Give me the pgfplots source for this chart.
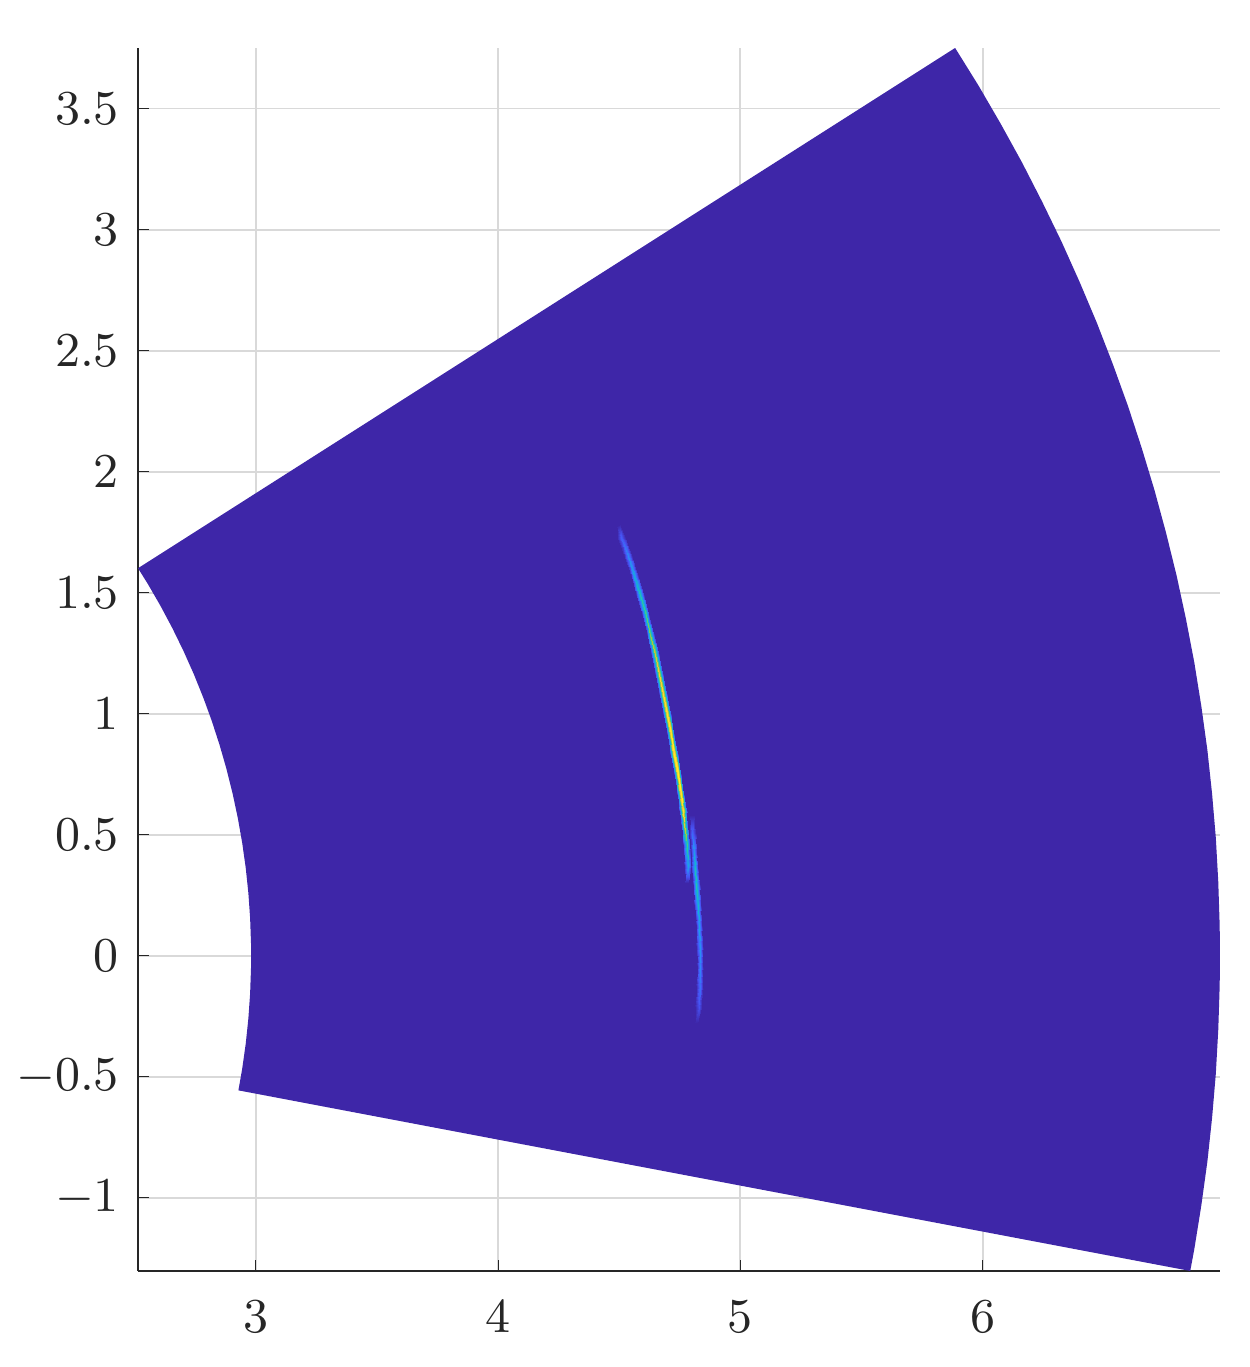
\documentclass[border=0pt]{standalone}
\usepackage{pgfplots}
\usepackage{pgfplotstable}
\pgfplotsset{compat=1.18}
\definecolor{parulaA}{rgb}{0.2422,0.1504,0.6603}
\pgfplotsset{colormap={parula}{
 rgb=(0.2422,0.1504,0.6603)
 rgb=(0.2810,0.3228,0.9579)
 rgb=(0.1786,0.5289,0.9682)
 rgb=(0.0689,0.6948,0.8394)
 rgb=(0.2161,0.7843,0.5923)
 rgb=(0.6720,0.7793,0.2227)
 rgb=(0.9970,0.7659,0.2199)
 rgb=(0.9657,0.8981,0.1797)
 rgb=(0.9769,0.9839,0.0805)}}

\pgfplotstableread{
t r c
21.6 4.812 0
21.6 4.828 0
21.6 4.844 0
21.0 4.812 0
21.0 4.828 0.15
21.0 4.844 0
20.0 4.811 0
20.0 4.827 0.25
20.0 4.843 0
19.0 4.809 0
19.0 4.825 0.35
19.0 4.841 0
18.0 4.806 0
18.0 4.822 0.45
18.0 4.838 0
17.0 4.803 0
17.0 4.819 0.52
17.0 4.835 0
16.0 4.799 0
16.0 4.815 0.60
16.0 4.831 0
15.0 4.795 0
15.0 4.811 0.68
15.0 4.827 0
14.0 4.791 0
14.0 4.807 0.76
14.0 4.823 0
13.0 4.787 0
13.0 4.803 0.84
13.0 4.819 0
12.0 4.785 0
12.0 4.801 0.90
12.0 4.817 0
11.0 4.784 0
11.0 4.800 0.94
11.0 4.816 0
10.0 4.784 0
10.0 4.800 0.97
10.0 4.816 0
9.0 4.784 0
9.0 4.800 1.00
9.0 4.816 0
8.0 4.784 0
8.0 4.800 0.96
8.0 4.816 0
7.2 4.784 0
7.2 4.800 0.88
7.2 4.816 0
6.5 4.784 0
6.5 4.800 0.72
6.5 4.816 0
5.5 4.784 0
5.5 4.800 0.52
5.5 4.816 0
4.5 4.783 0
4.5 4.799 0.35
4.5 4.815 0
3.6 4.782 0
3.6 4.798 0
3.6 4.814 0
}\mainstreak

\pgfplotstableread{
t r c
6.9 4.814 0
6.9 4.828 0
6.9 4.842 0
6.0 4.814 0
6.0 4.828 0.18
6.0 4.842 0
5.0 4.813 0
5.0 4.827 0.32
5.0 4.841 0
4.3 4.812 0
4.3 4.826 0.42
4.3 4.840 0
3.5 4.813 0
3.5 4.827 0.45
3.5 4.841 0
2.5 4.815 0
2.5 4.829 0.40
2.5 4.843 0
1.5 4.817 0
1.5 4.831 0.32
1.5 4.845 0
0.5 4.819 0
0.5 4.833 0.28
0.5 4.847 0
-0.5 4.820 0
-0.5 4.834 0.25
-0.5 4.848 0
-1.5 4.820 0
-1.5 4.834 0.20
-1.5 4.848 0
-2.5 4.819 0
-2.5 4.833 0.12
-2.5 4.847 0
-3.3 4.819 0
-3.3 4.833 0
-3.3 4.847 0
}\secondstreak

\begin{document}
\begin{tikzpicture}
\useasboundingbox (-25.53pt,-17.76pt) rectangle (205.72pt,235.14pt);
\begin{axis}[
  at={(0,0)}, anchor=south west,
  scale only axis,
  width=200.17pt, height=226.26pt,
  xmin=2.513, xmax=6.98, ymin=-1.302, ymax=3.750,
  axis lines=left,
  axis line style={-, draw=black!85},
  xtick={3,4,5,6},
  ytick={-1,-0.5,0,0.5,1,1.5,2,2.5,3,3.5},
  tick align=inside,
  major tick length=2pt,
  tick style={black!85},
  tick label style={font=\fontsize{9}{11}\selectfont, text=black!85},
  grid=major,
  grid style={black!15, line width=0.35pt},
  xticklabel style={yshift=-2pt},
  colormap name=parula,
  point meta min=0, point meta max=1,
]
\addplot[fill=parulaA, draw=none, data cs=polar] coordinates {
 (-10.75,2.98) (-9,2.98) (-7,2.98) (-5,2.98) (-3,2.98) (-1,2.98) (0,2.98) (1,2.98)
 (3,2.98) (5,2.98) (7,2.98) (9,2.98) (11,2.98) (13,2.98) (15,2.98) (17,2.98)
 (19,2.98) (21,2.98) (23,2.98) (25,2.98) (27,2.98) (29,2.98) (31,2.98) (32.5,2.98)
 (32.5,6.98) (31,6.98) (29.5,6.98) (28,6.98) (26.5,6.98) (25,6.98) (23.5,6.98)
 (22,6.98) (20.5,6.98) (19,6.98) (17.5,6.98) (16,6.98) (14.5,6.98) (13,6.98)
 (11.5,6.98) (10,6.98) (8.5,6.98) (7,6.98) (5.5,6.98) (4,6.98) (2.5,6.98)
 (1,6.98) (0,6.98) (-1,6.98) (-2.5,6.98) (-4,6.98) (-5.5,6.98) (-7,6.98)
 (-8.5,6.98) (-10,6.98) (-10.75,6.98)
} -- cycle;
\addplot[surf, shader=interp, data cs=polar, mesh/cols=3, point meta=explicit]
  table[x=t, y=r, meta=c] {\mainstreak};
\addplot[surf, shader=interp, data cs=polar, mesh/cols=3, point meta=explicit]
  table[x=t, y=r, meta=c] {\secondstreak};
\end{axis}
\end{tikzpicture}
\end{document}
